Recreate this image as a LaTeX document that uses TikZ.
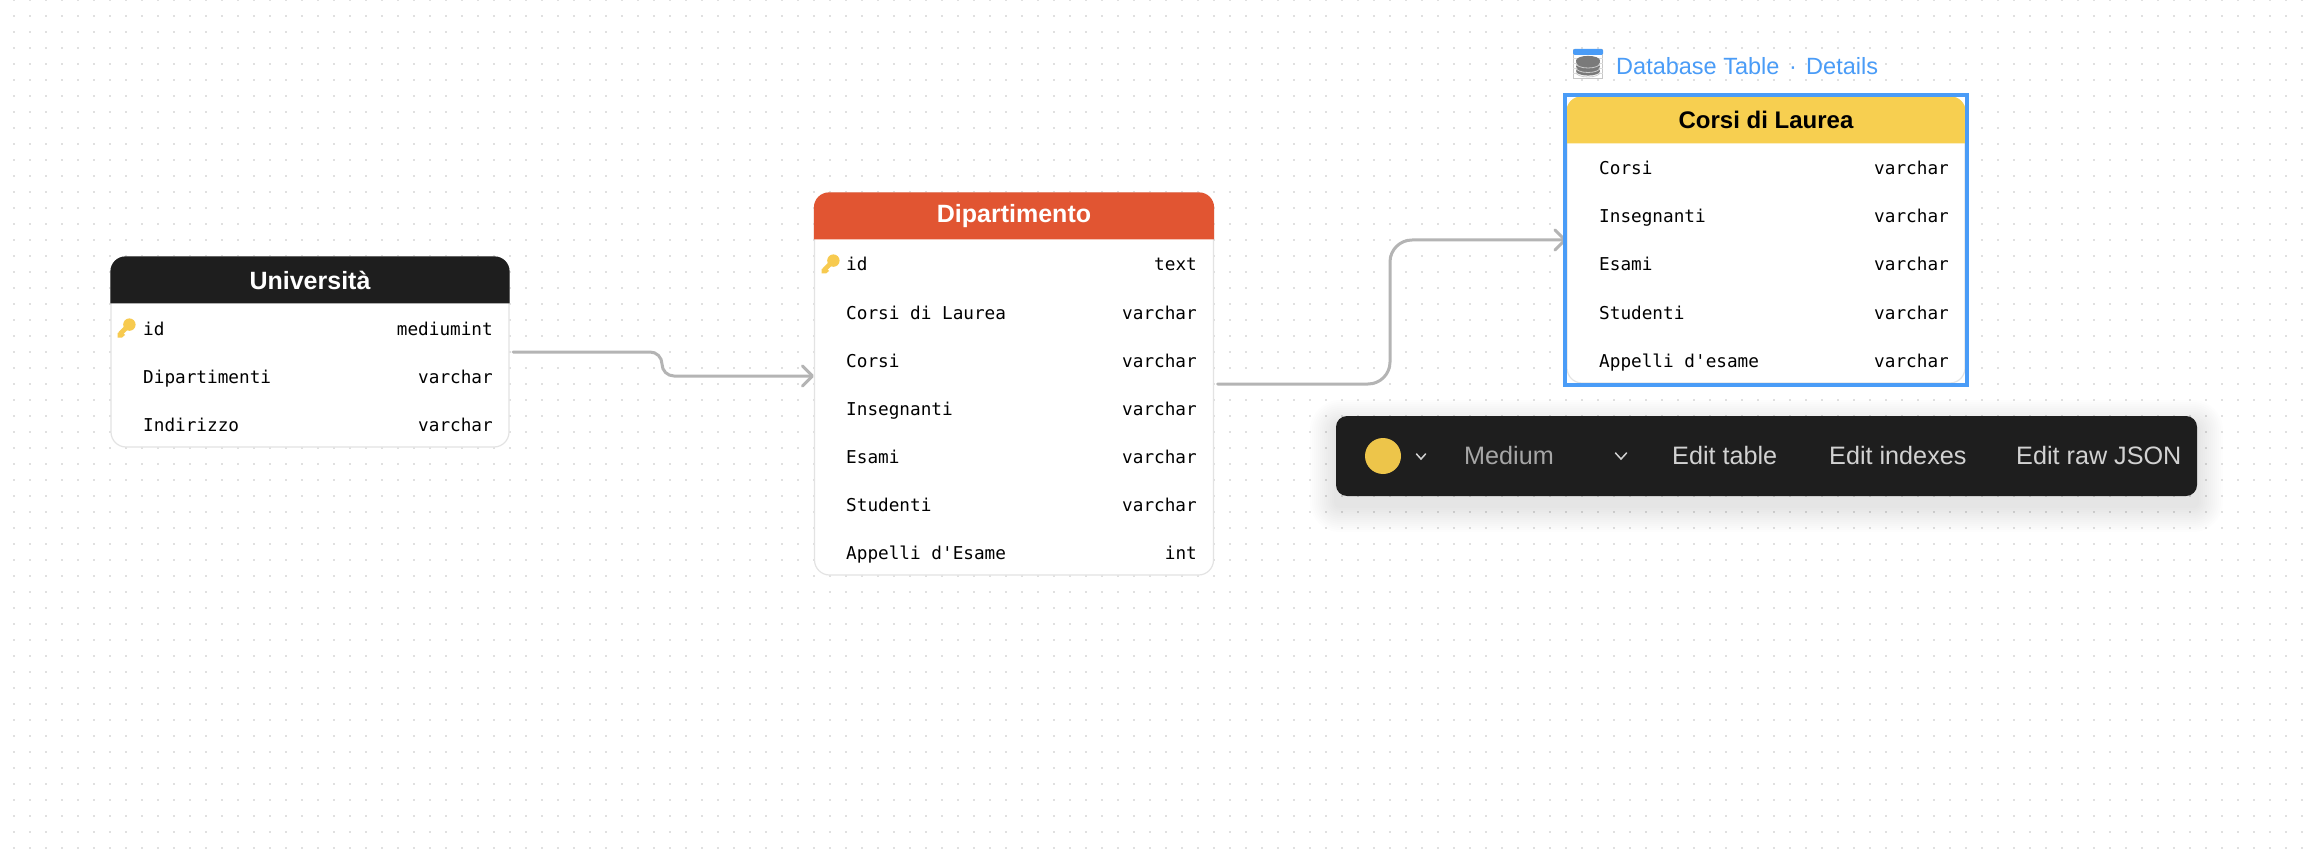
\documentclass[tikz,border=0pt]{standalone}
\usepackage{fontspec}
\setmainfont{Liberation Sans}
\newfontfamily\monof{DejaVu Sans Mono}
\usetikzlibrary{arrows.meta}
\definecolor{dotc}{HTML}{E0E0E0}
\definecolor{inkc}{HTML}{1E1E1E}
\definecolor{redc}{HTML}{E15532}
\definecolor{yelc}{HTML}{F7CF50}
\definecolor{keyc}{HTML}{F7CA4F}
\definecolor{swatchc}{HTML}{EDC54A}
\definecolor{linec}{HTML}{B4B4B4}
\definecolor{bluec}{HTML}{4A9CF7}
\definecolor{edgec}{HTML}{E3E3E3}
\definecolor{barlabc}{HTML}{D2D2D2}
\tikzset{
  tablebox/.style={draw=edgec,line width=1.2pt,fill=white,rounded corners=15pt,inner sep=0pt,minimum width=398pt},
  rowname/.style={anchor=base west,inner sep=0pt,font=\fontsize{17.7}{20}\monof,text=black},
  rowtype/.style={anchor=base east,inner sep=0pt,font=\fontsize{17.7}{20}\monof,text=black},
  titlelab/.style={inner sep=0pt,font=\fontsize{25}{28}\selectfont\bfseries},
  conn/.style={draw=linec,line width=3pt,line cap=round,line join=round},
  barb/.style={-{Straight Barb[length=10pt,width=20pt,line width=3pt,round]}},
  barlab/.style={anchor=base west,inner sep=0pt,text=barlabc,font=\fontsize{25.2}{28}\selectfont},
  toplab/.style={anchor=base west,inner sep=0pt,text=bluec,font=\fontsize{23.5}{28}\selectfont},
  keyicon/.pic={
    \fill[keyc] (3.4,-3.4) circle[radius=6.2pt];
    \draw[keyc,line width=4.6pt] (2.5,-2.5) -- (-6,6);
    \fill[keyc] (-4,4) -- (-1,7) -- (-4,9.5) -- (-8.5,9.5) -- (-8.5,5) -- cycle;
  }
}
\newcommand{\tablehead}[2]{%
  \fill[#2] ([yshift=-47pt]#1.north west) -- ([yshift=-15pt]#1.north west)
    arc[start angle=180,end angle=90,radius=15pt] -- ([xshift=-15pt]#1.north east)
    arc[start angle=90,end angle=0,radius=15pt] -- ([yshift=-47pt]#1.north east) -- cycle;}
\begin{document}
\begin{tikzpicture}[x=1pt,y=-1pt]
\useasboundingbox (0,0) rectangle (2312,850);
\fill[white] (0,0) rectangle (2312,850);
% dotted canvas
\foreach \r in {0,...,53}{
  \draw[dotc,line width=1.7pt,dash pattern=on 1.7pt off 14.3pt] (13,16*\r) -- (2312,16*\r);
}
% tables
\node[tablebox,minimum height=190pt] (uni) at (310,352) {};
\node[tablebox,minimum height=382pt,minimum width=399pt] (dep) at (1014,384) {};
\node[tablebox,minimum height=286pt] (cor) at (1766,240) {};
\tablehead{uni}{inkc}
\tablehead{dep}{redc}
\tablehead{cor}{yelc}
\node[titlelab,text=white] (uniT) at (310,280) {Università};
\node[titlelab,text=white] (depT) at (1014,216) {Dipartimento};
\node[titlelab,text=black,font=\fontsize{24}{28}\selectfont\bfseries] (corT) at (1766,120) {Corsi di Laurea};
% rows
\foreach \n/\t [count=\i from 0] in {id/mediumint,Dipartimenti/varchar,Indirizzo/varchar}{
  \node[rowname] (uniN\i) at (143,335+48*\i) {\n};
  \node[rowtype] (uniY\i) at (493,335+48*\i) {\t};
}
\foreach \n/\t [count=\i from 0] in {id/text,Corsi di Laurea/varchar,Corsi/varchar,Insegnanti/varchar,Esami/varchar,Studenti/varchar,Appelli d'Esame/int}{
  \node[rowname] (depN\i) at (846,271+48*\i) {\n};
  \node[rowtype] (depY\i) at (1197,271+48*\i) {\t};
}
\foreach \n/\t [count=\i from 0] in {Corsi/varchar,Insegnanti/varchar,Esami/varchar,Studenti/varchar,Appelli d'esame/varchar}{
  \node[rowname] (corN\i) at (1599,175+48*\i) {\n};
  \node[rowtype] (corY\i) at (1949,175+48*\i) {\t};
}
\pic at (126,328) {keyicon};
\pic at (830,264) {keyicon};
% connectors
\coordinate (b1) at (662,364);
\coordinate (b2) at (1390,312);
\draw[conn,barb] ([xshift=3.5pt]uni.east) -- ([shift={(-12pt,12pt)}]b1)
  arc[start angle=90,end angle=0,radius=12pt]
  arc[start angle=180,end angle=270,radius=12pt] -- ([yshift=8pt]dep.west);
\draw[conn,barb,rounded corners=22pt] ([xshift=3.5pt]dep.east) -| (b2) |- (cor.west);
% selection frame
\node[draw=bluec,line width=4pt,minimum width=402pt,minimum height=289.5pt,inner sep=0pt] (sel) at (1766,240) {};
% db icon and caption
\node[draw=black!22,fill=white,line width=1pt,minimum width=29pt,minimum height=29pt,inner sep=0pt] (ico) at (1588,64) {};
\foreach \yy in {59,64,69,74}{\draw[black!14,line width=1pt] (ico.west |- 0,\yy) -- (ico.east |- 0,\yy);}
\fill[bluec,rounded corners=1.5pt] (ico.north west) rectangle ([yshift=-6pt]ico.north east);
\foreach \yy in {71,66.5,62}{\fill[black!52] (1588,\yy) ellipse[x radius=12pt,y radius=4.6pt];\draw[black!20,line width=0.8pt] (1576,\yy+1.4) arc[start angle=180,end angle=360,x radius=12pt,y radius=4.6pt];}
\fill[black!52] (1588,60.5) ellipse[x radius=12pt,y radius=4.6pt];
\node[toplab] (capA) at (1616,75) {Database Table};
\node[toplab] (capB) at (1789,75) {·};
\node[toplab] (capC) at (1806,75) {Details};
% toolbar
\foreach \g in {26,24,...,2}{
  \fill[black,opacity=0.0065,rounded corners=\g pt+4pt] (1336-\g,416+10-\g) rectangle (2197+\g,496+10+\g);
}
\node[fill=inkc,rounded corners=11pt,minimum width=861pt,minimum height=80pt,inner sep=0pt] (bar) at (1766.5,456) {};
\node[fill=swatchc,draw=none,circle,minimum size=36pt,inner sep=0pt] (dotsel) at (1383,456) {};
\coordinate (ca) at (1421,456);
\coordinate (cb) at (1621,456);
\draw[barlabc,line width=1.5pt,line cap=round] ([shift={(-4.5,-2)}]ca) -- ([shift={(0,3)}]ca) -- ([shift={(4.5,-2)}]ca);
\draw[barlabc,line width=1.5pt,line cap=round] ([shift={(-5.5,-3)}]cb) -- ([shift={(0,3)}]cb) -- ([shift={(5.5,-3)}]cb);
\node[barlab,text=black!35] (bA) at (1464,464) {Medium};
\node[barlab] (bB) at (1672,464) {Edit table};
\node[barlab] (bC) at (1829,464) {Edit indexes};
\node[barlab] (bD) at (2016,464) {Edit raw JSON};
\end{tikzpicture}
\end{document}
